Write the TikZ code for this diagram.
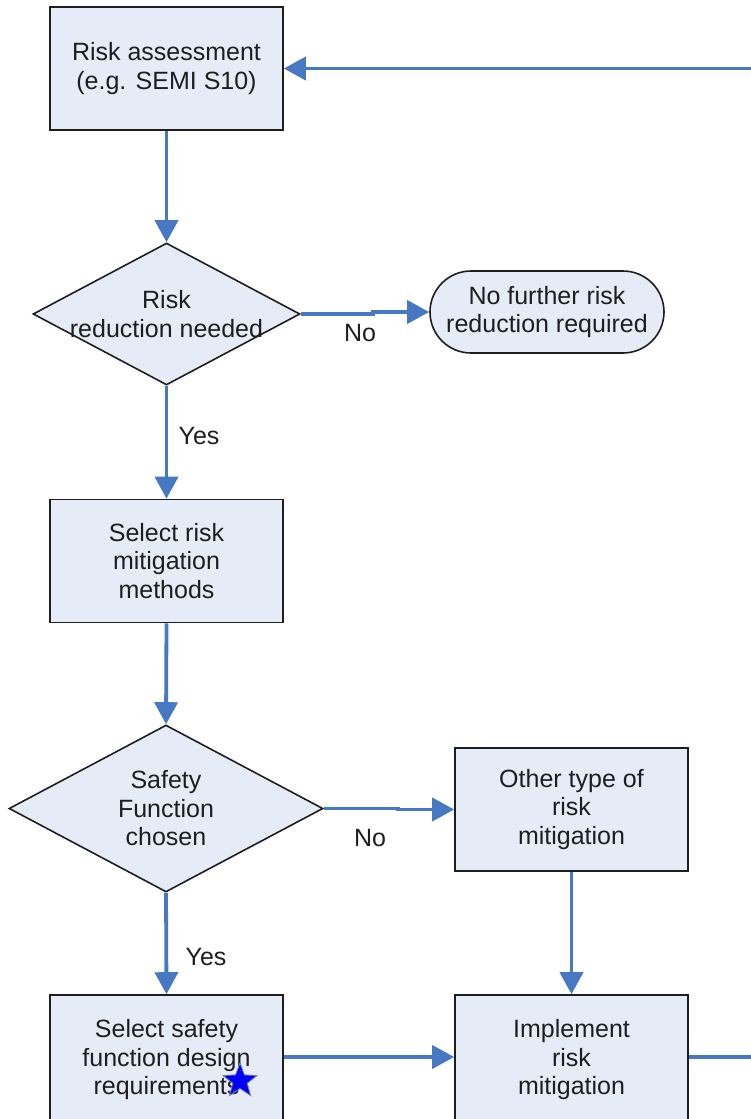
\documentclass[tikz,border=0pt]{standalone}
\usepackage{fontspec}
\setmainfont{Liberation Sans}
\usetikzlibrary{arrows.meta,shapes.geometric}
\definecolor{boxfill}{RGB}{230,236,247}
\definecolor{flow}{RGB}{70,120,196}
\definecolor{ink}{RGB}{30,30,30}
\tikzset{
  base/.style={draw=ink, line width=1.6pt, fill=boxfill, text=ink, align=center,
    font=\fontsize{25}{28.5}\selectfont, inner sep=0pt},
  procbox/.style={base, rectangle, minimum width=233pt, minimum height=123pt},
  decision/.style={base, diamond, inner sep=0pt},
  terminal/.style={base, rectangle, rounded corners=41pt, minimum width=234pt, minimum height=82pt},
  flowline/.style={draw=flow, line width=3.8pt},
  flowarrow/.style={flowline, -{Triangle[length=22pt,width=23pt]}},
  lbl/.style={text=ink, font=\fontsize{25}{28.5}\selectfont, inner sep=0pt, align=center},
}
\begin{document}
\begin{tikzpicture}[x=1pt,y=-1pt]
\useasboundingbox (0,0) rectangle (750,1119);

% process steps
\node[procbox] (assess) at (166.5,68.5) {Risk assessment\\(e.g. SEMI S10)};
\node[decision, minimum width=267pt, minimum height=142pt] (needed) at (166.5,314) {};
\node[lbl] (neededtext) at (needed.center) {Risk\\reduction needed};
\node[terminal] (nofurther) at (547,312) {No further risk\\reduction required};
\node[procbox] (select) at (166.5,561) {Select risk\\mitigation\\methods};
\node[decision, minimum width=314pt, minimum height=167pt] (chosen) at (166,808.5) {};
\node[lbl] (chosentext) at (chosen.center) {Safety\\Function\\chosen};
\node[procbox] (other) at (571.5,809.5) {Other type of\\risk\\mitigation};
\node[procbox, minimum height=130pt] (sfreq) at (166.5,1060) {Select safety\\function design\\requirements};
\node[procbox, minimum height=130pt] (impl) at (571.5,1060) {Implement\\risk\\mitigation};

% marker on the requirements step
\node[star, star points=5, star point ratio=2.4, minimum size=36pt, inner sep=0pt,
      fill=blue, draw=gray, line width=0.8pt] (mark) at (240,1081) {};

% loop ends leaving the sheet on the right
\coordinate (loopin) at (752,68.5);
\coordinate (loopout) at (752,1057);

% connectors
\draw[flowarrow] (loopin) -- (assess.east);
\draw[flowarrow] (assess.south) -- (needed.north);
\draw[flowarrow] (needed.east) -- ++(72,0) |- (nofurther.west);
\draw[flowarrow] (needed.south) -- (select.north);
\draw[flowarrow] (select.south) -- (chosen.north);
\draw[flowarrow] (chosen.east) -- ++(74,0) |- (other.west);
\draw[flowarrow] (chosen.south) -- (sfreq.north);
\draw[flowarrow] (other.south) -- (impl.north);
\draw[flowarrow] (sfreq.east |- loopout) -- (impl.west |- loopout);
\draw[flowline] (impl.east |- loopout) -- (loopout);

% branch labels
\node[lbl] (no1) at (360,333) {No};
\node[lbl] (yes1) at (199,436) {Yes};
\node[lbl] (no2) at (370,838) {No};
\node[lbl] (yes2) at (206,957) {Yes};
\end{tikzpicture}
\end{document}
